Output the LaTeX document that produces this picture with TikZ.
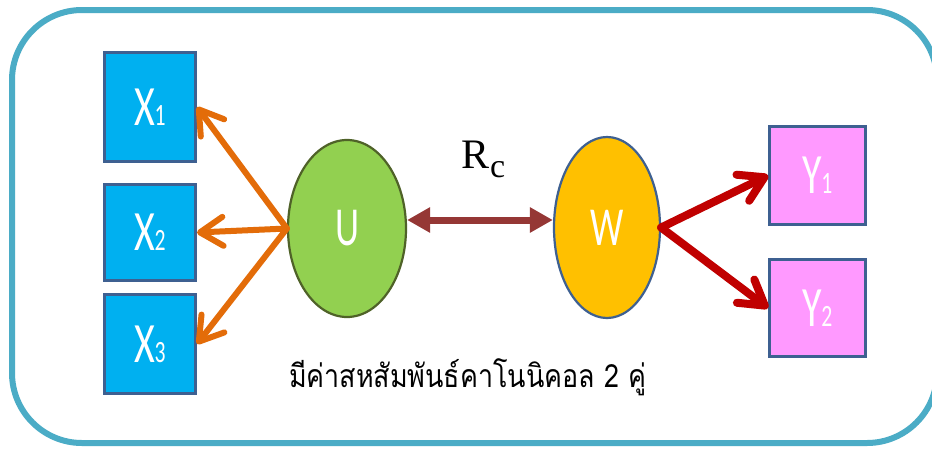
\documentclass[tikz,border=0pt]{standalone}
\usepackage{fontspec}
\setmainfont{Liberation Serif}
\newfontfamily\labfont{Carlito}
\newfontfamily\thaifont[Script=Thai]{Loma}
\usetikzlibrary{shapes.geometric,arrows.meta}

\definecolor{frameteal}{RGB}{75,172,198}
\definecolor{boxedge}{RGB}{62,96,145}
\definecolor{xfill}{RGB}{0,176,240}
\definecolor{yfill}{RGB}{255,153,255}
\definecolor{ufill}{RGB}{146,208,80}
\definecolor{uedge}{RGB}{79,98,40}
\definecolor{wfill}{RGB}{255,192,0}
\definecolor{loadorange}{RGB}{227,108,9}
\definecolor{loadred}{RGB}{192,0,0}
\definecolor{corrbrown}{RGB}{149,55,53}

% variable label: big letter with a small index on the same baseline
\newcommand{\varlab}[2]{\scalebox{0.7}[1]{\fontsize{57}{57}\selectfont #1\kern-1pt{\fontsize{31}{31}\selectfont #2}}}
\newcommand{\latlab}[1]{\scalebox{0.68}[1]{\fontsize{55}{55}\selectfont #1}}

\tikzset{
  varbox/.style={draw=boxedge, line width=3pt, inner sep=0pt, text=white, font=\labfont},
  latent/.style={ellipse, line width=2.2pt, inner sep=0pt, text=white, font=\labfont},
  loadarrow/.style={line width=6pt, line cap=round, line join=round,
    -{Straight Barb[length=23pt, width=29pt, line cap=round, line join=round]}},
  ylarrow/.style={line width=8pt, line cap=round, line join=round,
    -{Straight Barb[length=24pt, width=29pt, line cap=round, line join=round]}},
  corrarrow/.style={line width=7pt,
    {Triangle[length=23pt, width=24pt]}-{Triangle[length=23pt, width=24pt]}}
}

\begin{document}
\begin{tikzpicture}[x=1pt, y=-1pt]
\useasboundingbox (0,0) rectangle (932,448);
\clip (0,0) rectangle (932,448);
\fill[white] (0,0) rectangle (932,448);

% outer rounded frame
\draw[frameteal, line width=6pt, rounded corners=70pt] (12,10) rectangle (937,443);

% observed variables
\node[varbox, fill=xfill, minimum width=91pt, minimum height=109pt] (X1) at (150,107) {\varlab{X}{1}};
\node[varbox, fill=xfill, minimum width=91pt, minimum height=96pt]  (X2) at (150,232.5) {\varlab{X}{2}};
\node[varbox, fill=xfill, minimum width=91pt, minimum height=99pt]  (X3) at (150,344) {\varlab{X}{3}};
\node[varbox, fill=yfill, minimum width=96pt, minimum height=98pt]  (Y1) at (817.5,175.5) {\varlab{Y}{1}};
\node[varbox, fill=yfill, minimum width=96pt, minimum height=97pt]  (Y2) at (817.5,308) {\varlab{Y}{2}};

% canonical variates
\node[latent, draw=uedge, fill=ufill, minimum width=118pt, minimum height=177pt] (U) at (347,228.5) {\latlab{U}};
\node[latent, draw=boxedge, fill=wfill, minimum width=106pt, minimum height=181pt] (W) at (607,227.5) {\latlab{W}};

% loadings
\draw[loadarrow, loadorange] (U.west) -- (X1.east);
\draw[loadarrow, loadorange] (U.west) -- (X2.east);
\draw[loadarrow, loadorange] (U.west) -- (X3.east);
\draw[ylarrow, loadred] (W.east) -- (Y1.west);
\draw[ylarrow, loadred] (W.east) -- (Y2.west);

% canonical correlation
\draw[corrarrow, corrbrown] ([yshift=8.5pt]U.east) -- ([yshift=7.5pt]W.west);
\node[anchor=base west, inner sep=0pt] (rc) at (461,168)
  {\fontsize{42}{42}\selectfont R\kern1pt\raisebox{-9pt}{\fontsize{34}{34}\selectfont c}};

% caption
\node[anchor=base, inner sep=0pt] (caption) at (467.5,387)
  {\resizebox{357pt}{\height}{\thaifont\fontsize{32}{32}\selectfont มีค่าสหสัมพันธ์คาโนนิคอล 2 คู่}};
\end{tikzpicture}
\end{document}
